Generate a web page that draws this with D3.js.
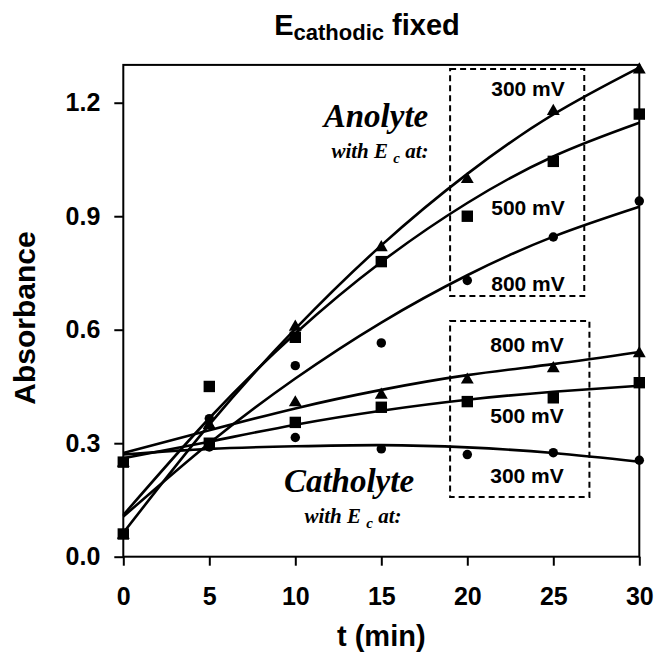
<!DOCTYPE html>
<html><head><meta charset="utf-8">
<script src="https://cdn.jsdelivr.net/npm/d3@7"></script>
<style>
html,body{margin:0;padding:0;background:#fff;}
svg{display:block;}
text{font-family:"Liberation Sans",Arial,sans-serif;}
</style></head>
<body>
<svg id="chart" width="654" height="652"></svg>
<script>
// ---- data ----
const times = [0, 5, 10, 15, 20, 25, 30];
const xTicks = [0, 5, 10, 15, 20, 25, 30];
const yTicks = [0.0, 0.3, 0.6, 0.9, 1.2];

// measured points
const anolyte300 = [0.06, 0.35, 0.61, 0.82, 1.00, 1.18, 1.29];
const anolyte500 = [0.06, 0.45, 0.58, 0.78, 0.90, 1.045, 1.17];
const anolyte800 = [0.06, 0.365, 0.505, 0.565, 0.73, 0.845, 0.94];
const catholyte800 = [0.25, 0.35, 0.41, 0.43, 0.47, 0.50, 0.54];
const catholyte500 = [0.25, 0.30, 0.355, 0.395, 0.41, 0.42, 0.46];
const catholyte300 = [0.25, 0.29, 0.315, 0.285, 0.27, 0.275, 0.255];

// trend curves
const trendA300 = [0.063, 0.349, 0.602, 0.823, 1.012, 1.169, 1.293];
const trendA500 = [0.110, 0.366, 0.590, 0.779, 0.935, 1.058, 1.147];
const trendA800 = [0.106, 0.300, 0.471, 0.619, 0.744, 0.846, 0.925];
const trendC800 = [0.274, 0.334, 0.392, 0.441, 0.480, 0.509, 0.541];
const trendC500 = [0.260, 0.304, 0.349, 0.386, 0.415, 0.436, 0.452];
const trendC300 = [0.270, 0.285, 0.292, 0.295, 0.289, 0.274, 0.251];

const seriesNames = ["Anolyte 300", "Anolyte 500", "Anolyte 800", "Catholyte 800", "Catholyte 500", "Catholyte 300"];
const seriesValues = [anolyte300, anolyte500, anolyte800, catholyte800, catholyte500, catholyte300];
const seriesTrends = [trendA300, trendA500, trendA800, trendC800, trendC500, trendC300];
const seriesMarkers = ["triangle", "square", "circle", "triangle", "square", "circle"];

const boxLabelsTop = ["300 mV", "500 mV", "800 mV"];
const boxLabelsBottom = ["800 mV", "500 mV", "300 mV"];

// ---- drawing ----
const svg = d3.select("#chart");
const x = d3.scaleLinear().domain([0, 30]).range([123.3, 639.3]);
const y = d3.scaleLinear().domain([0, 1.3]).range([556.7, 64.9]);
const FONT = '"Liberation Sans", Arial, sans-serif';
const SERIF = '"Liberation Serif", "Times New Roman", serif';

// frame
svg.append("rect")
  .attr("x", x(0)).attr("y", y(1.3))
  .attr("width", x(30) - x(0)).attr("height", y(0) - y(1.3))
  .attr("fill", "none").attr("stroke", "#000").attr("stroke-width", 2);

// axes
const yAxis = svg.append("g").attr("transform", `translate(${x(0)},0)`)
  .call(d3.axisLeft(y).tickValues(yTicks).tickFormat(d3.format(".1f")).tickSize(9).tickPadding(14));
const xAxis = svg.append("g").attr("transform", `translate(0,${y(0)})`)
  .call(d3.axisBottom(x).tickValues(xTicks).tickFormat(d3.format("d")).tickSize(9).tickPadding(22));
[xAxis, yAxis].forEach(g => {
  g.select(".domain").remove();
  g.selectAll(".tick line").attr("stroke", "#000").attr("stroke-width", 2);
  g.selectAll(".tick text").attr("fill", "#000")
    .style("font-family", FONT).style("font-size", "25px").style("font-weight", "bold");
});

// dashed boxes
function dashedBox(t0, t1, v0, v1) {
  svg.append("rect")
    .attr("x", x(t0)).attr("y", y(v1))
    .attr("width", x(t1) - x(t0)).attr("height", y(v0) - y(v1))
    .attr("fill", "none").attr("stroke", "#000").attr("stroke-width", 2)
    .attr("stroke-dasharray", "6,4");
}
dashedBox(19.0, 26.8, 0.689, 1.289);
dashedBox(19.0, 27.1, 0.158, 0.623);

// box labels
const boxLabelYTop = [96, 215, 291];
const boxLabelYBot = [352, 423, 483];
boxLabelsTop.forEach((s, i) => {
  svg.append("text").attr("x", 528).attr("y", boxLabelYTop[i]).attr("text-anchor", "middle")
    .style("font-family", FONT).style("font-size", "21px").style("font-weight", "bold").text(s);
});
boxLabelsBottom.forEach((s, i) => {
  svg.append("text").attr("x", 527).attr("y", boxLabelYBot[i]).attr("text-anchor", "middle")
    .style("font-family", FONT).style("font-size", "21px").style("font-weight", "bold").text(s);
});

// trend curves
const line = d3.line().x((d, i) => x(times[i])).y(d => y(d)).curve(d3.curveNatural);
seriesTrends.forEach(tr => {
  svg.append("path").attr("d", line(tr)).attr("fill", "none")
    .attr("stroke", "#000").attr("stroke-width", 2.6);
});

// markers
const sym = {
  triangle: d3.symbol().type(d3.symbolTriangle).size(72),
  square: d3.symbol().type(d3.symbolSquare).size(130),
  circle: d3.symbol().type(d3.symbolCircle).size(70)
};
seriesValues.forEach((vals, si) => {
  svg.append("g").selectAll("path").data(vals).join("path")
    .attr("d", sym[seriesMarkers[si]]())
    .attr("transform", (d, i) => `translate(${x(times[i])},${y(d) + (seriesMarkers[si] === "triangle" ? 1 : 0)})`)
    .attr("fill", "#000");
});

// annotations
function annot(cx, by, big) {
  svg.append("text").attr("x", cx).attr("y", by).attr("text-anchor", "middle")
    .style("font-family", SERIF).style("font-size", "33px").style("font-weight", "bold").style("font-style", "italic")
    .text(big);
  const t = svg.append("text").attr("x", cx + 4).attr("y", by + 31).attr("text-anchor", "middle")
    .style("font-family", SERIF).style("font-size", "21px").style("font-weight", "bold").style("font-style", "italic");
  t.append("tspan").text("with E ");
  t.append("tspan").attr("dy", 5).style("font-size", "15px").text("c");
  t.append("tspan").attr("dy", -5).text("  at:");
}
annot(376, 127, "Anolyte");
annot(349, 492, "Catholyte");

// title
const title = svg.append("text").attr("x", 367).attr("y", 35).attr("text-anchor", "middle")
  .style("font-family", FONT).style("font-size", "29px").style("font-weight", "bold");
title.append("tspan").text("E");
title.append("tspan").attr("dy", 5).style("font-size", "22px").text("cathodic");
title.append("tspan").attr("dy", -5).text(" fixed");

// axis titles
svg.append("text").attr("x", x(15)).attr("y", 646).attr("text-anchor", "middle")
  .style("font-family", FONT).style("font-size", "29px").style("font-weight", "bold").text("t (min)");
svg.append("text").attr("transform", `translate(35,318) rotate(-90)`).attr("text-anchor", "middle")
  .style("font-family", FONT).style("font-size", "30px").style("font-weight", "bold").text("Absorbance");
</script>
</body></html>
